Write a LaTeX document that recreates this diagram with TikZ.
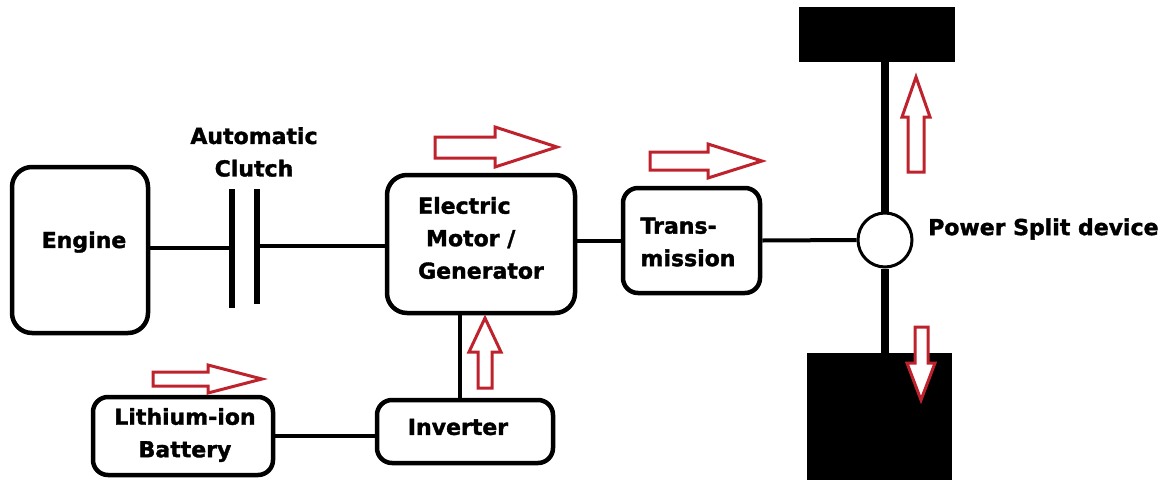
\documentclass[tikz,border=0pt]{standalone}
\usepackage{fontspec}
\setmainfont{DejaVu Sans}[BoldFeatures={FakeBold=1.6}]
\definecolor{arrowred}{RGB}{190,35,45}
\begin{document}
\begin{tikzpicture}[x=1pt,y=-1pt,
  box/.style={draw=black,line width=4.5pt,rounded corners=20pt,inner sep=0pt},
  smallbox/.style={box,rounded corners=15pt},
  lbl/.style={font=\bfseries\fontsize{22}{32.5}\selectfont,align=center,inner sep=0pt},
  link/.style={line width=4pt,black},
  axle/.style={line width=8pt,black},
  plate/.style={fill=black,inner sep=0pt,minimum width=6pt},
  wheel/.style={fill=black,inner sep=0pt},
  flow/.style={draw=arrowred,line width=3pt,line join=miter,fill=white}]
\useasboundingbox (0,0) rectangle (1176,480);
% boxes
\node[box,minimum width=136pt,minimum height=166pt] (engine) at (80,250) {};
\node[lbl] (enginetxt) at (84,242) {Engine};
\node[plate,minimum height=119pt] (c1) at (232,248) {};
\node[plate,minimum height=115pt] (c2) at (257,246) {};
\node[lbl] (clutchtxt) at (254,152) {Automatic\\Clutch};
\node[box,minimum width=188pt,minimum height=138pt] (motor) at (481,244) {};
\node[lbl,align=left] (motortxt) at (481,238) {Electric\\\hspace{8pt}Motor /\\Generator};
\node[smallbox,minimum width=137pt,minimum height=105pt] (trans) at (691.5,240.5) {};
\node[lbl,align=left] (transtxt) at (688,242) {Trans-\\mission};
\node[smallbox,minimum width=180pt,minimum height=78pt] (bat) at (183,436) {};
\node[lbl] (battxt) at (185,435) {Lithium-ion\\Battery};
\node[smallbox,minimum width=176pt,minimum height=63pt] (inv) at (465,431.5) {};
\node[lbl] (invtxt) at (458,427) {Inverter};
% power split and wheels
\node[circle,draw=black,line width=3pt,minimum size=54pt,inner sep=0pt] (psd) at (885,240) {};
\node[lbl,anchor=west] (psdtxt) at (928,229) {Power Split device};
\node[wheel,minimum width=156pt,minimum height=55pt] (topw) at (877,34.5) {};
\node[wheel,minimum width=145pt,minimum height=127pt] (botw) at (879.5,416.5) {};
% connectors
\draw[link] (c1.west -| engine.east) -- (c1.west);
\draw[link] (c2.east) -- (c2.east -| motor.west);
\draw[link] (motor.east |- trans.west) -- (trans.west);
\draw[link] (trans.east) -- (psd.west);
\draw[axle] (psd.north) -- (psd.north |- topw.south);
\draw[axle] (psd.south) -- (psd.south |- botw.north);
\draw[link] (bat.east) -- (bat.east -| inv.west);
\draw[link] ([xshift=-5pt]inv.north) -- ([xshift=-5pt]inv.north |- motor.south);
% red flow arrows
\draw[flow] (435,137) -- (495,137) -- (495,127) -- (557,147) -- (495,167) -- (495,158) -- (435,158) -- cycle;
\draw[flow] (650,152) -- (708,152) -- (708,144) -- (762,161) -- (708,178) -- (708,170) -- (650,170) -- cycle;
\draw[flow] (153,372) -- (208,372) -- (208,365) -- (262,379) -- (208,393) -- (208,386) -- (153,386) -- cycle;
\draw[flow] (478,388) -- (478,352) -- (469,352) -- (485,318) -- (501,352) -- (492,352) -- (492,388) -- cycle;
\draw[flow] (908,172) -- (908,117) -- (902,117) -- (916,77) -- (930,117) -- (924,117) -- (924,172) -- cycle;
\draw[flow] (915,327) -- (915,363) -- (907,363) -- (921,400) -- (935,363) -- (928,363) -- (928,327) -- cycle;
\end{tikzpicture}
\end{document}
